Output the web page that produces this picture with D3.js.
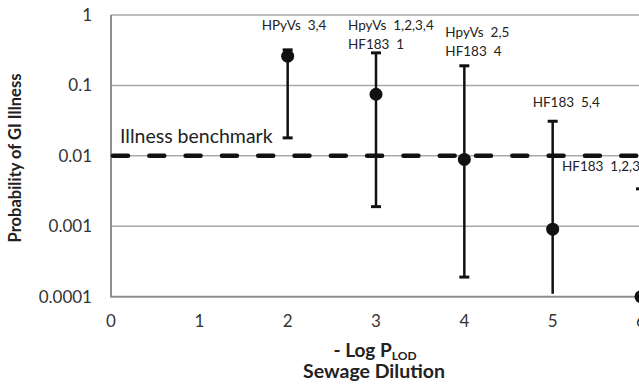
<!DOCTYPE html>
<html>
<head>
<meta charset="utf-8">
<script src="https://cdn.jsdelivr.net/npm/d3@7"></script>
<style>
	body { margin: 0; background: #fff; }
	svg { display: block; font-family: Lato, "Open Sans", sans-serif; }
	text { white-space: pre; }
</style>
</head>
<body>
<div id="chart"></div>
<script>
// data
var dilution = [2, 3, 4, 5, 6];
var probMean = [0.26, 0.075, 0.0089, 0.00091, 0.0001];
var probUpper = [0.32, 0.29, 0.19, 0.031, 0.0034];
var probLower = [0.018, 0.0019, 0.00019, 0.00011, 0.0001];
var lowerCapShown = [true, true, true, false, false];
var pointLabels = [
	["HPyVs  3,4"],
	["HpyVs  1,2,3,4", "HF183  1"],
	["HpyVs  2,5", "HF183  4"],
	["HF183  5,4"],
	["HF183  1,2,3"]
];
var xTicks = [0, 1, 2, 3, 4, 5, 6];
var yTicks = [1, 0.1, 0.01, 0.001, 0.0001];
var yTickLabels = ["1", "0.1", "0.01", "0.001", "0.0001"];
var benchmark = 0.01;

var width = 639, height = 384;
var plotLeft = 111, plotTop = 15, plotBottom = 296.7;

var svg = d3.select("#chart").append("svg")
	.attr("width", width).attr("height", height);

var x = d3.scaleLinear().domain([0, 6]).range([plotLeft, 641]);
var y = d3.scaleLog().domain([0.0001, 1]).range([plotBottom, plotTop]);

// gridlines
svg.append("g").selectAll("line")
	.data(yTicks.slice(0, 4))
	.enter().append("line")
	.attr("x1", plotLeft).attr("x2", width)
	.attr("y1", function (d) { return y(d); })
	.attr("y2", function (d) { return y(d); })
	.attr("stroke", "#a9a9a9").attr("stroke-width", 1.5);

// axes lines
svg.append("line")
	.attr("x1", plotLeft).attr("x2", plotLeft).attr("y1", plotTop).attr("y2", plotBottom)
	.attr("stroke", "#8e8e8e").attr("stroke-width", 2);
svg.append("line")
	.attr("x1", plotLeft - 1).attr("x2", width).attr("y1", plotBottom).attr("y2", plotBottom)
	.attr("stroke", "#8e8e8e").attr("stroke-width", 2);

// tick labels
svg.append("g").selectAll("text")
	.data(yTicks)
	.enter().append("text")
	.attr("x", 92)
	.attr("y", function (d) { return y(d) + 6; })
	.attr("text-anchor", "end")
	.attr("font-size", 17).attr("fill", "#333")
	.text(function (d, i) { return yTickLabels[i]; });

svg.append("g").selectAll("text")
	.data(xTicks)
	.enter().append("text")
	.attr("x", function (d) { return x(d); })
	.attr("y", 327)
	.attr("text-anchor", "middle")
	.attr("font-size", 17).attr("fill", "#333")
	.text(function (d) { return d; });

// benchmark line
svg.append("line")
	.attr("x1", plotLeft + 2).attr("x2", width)
	.attr("y1", y(benchmark)).attr("y2", y(benchmark))
	.attr("stroke", "#111").attr("stroke-width", 4.5)
	.attr("stroke-linecap", "round")
	.attr("stroke-dasharray", "15,21.3")
	.attr("stroke-dashoffset", 0);

svg.append("text")
	.attr("x", 120).attr("y", 143)
	.attr("font-size", 19.5).attr("fill", "#222")
	.text("Illness benchmark");

// error bars
var bars = svg.append("g").selectAll("g")
	.data(dilution)
	.enter().append("g");

bars.append("line")
	.attr("x1", function (d) { return x(d); })
	.attr("x2", function (d) { return x(d); })
	.attr("y1", function (d, i) { return y(probUpper[i]); })
	.attr("y2", function (d, i) { return y(probLower[i]); })
	.attr("stroke", "#111").attr("stroke-width", 2.5);

bars.append("line")
	.attr("x1", function (d) { return x(d) - 5; })
	.attr("x2", function (d) { return x(d) + 5; })
	.attr("y1", function (d, i) { return y(probUpper[i]); })
	.attr("y2", function (d, i) { return y(probUpper[i]); })
	.attr("stroke", "#111").attr("stroke-width", 3);

bars.filter(function (d, i) { return lowerCapShown[i]; })
	.append("line")
	.attr("x1", function (d) { return x(d) - 5; })
	.attr("x2", function (d) { return x(d) + 5; })
	.attr("y1", function (d) { return y(probLower[dilution.indexOf(d)]); })
	.attr("y2", function (d) { return y(probLower[dilution.indexOf(d)]); })
	.attr("stroke", "#111").attr("stroke-width", 3);

bars.append("circle")
	.attr("cx", function (d) { return x(d); })
	.attr("cy", function (d, i) { return y(probMean[i]); })
	.attr("r", 6.5)
	.attr("fill", "#111");

// labels above the bars
var labelDx = [-26, -28, -19, -20, -79];
var labelY = [30, 30, 37, 107, 171];
bars.each(function (d, i) {
	var g = d3.select(this);
	pointLabels[i].forEach(function (line, k) {
		g.append("text")
			.attr("x", x(d) + labelDx[i])
			.attr("y", labelY[i] + k * 18.5)
			.attr("font-size", 13.5).attr("fill", "#222")
			.text(line);
	});
});

// axis titles
svg.append("text")
	.attr("transform", "translate(21,158) rotate(-90)")
	.attr("text-anchor", "middle")
	.attr("font-size", 16.5).attr("font-weight", "bold").attr("fill", "#222")
	.text("Probability of GI Illness");

var xt = svg.append("text")
	.attr("x", 375).attr("y", 357)
	.attr("text-anchor", "middle")
	.attr("font-size", 19).attr("font-weight", "bold").attr("fill", "#222");
xt.append("tspan").text("- Log P");
xt.append("tspan").attr("font-size", 12).attr("dy", 3).text("LOD");

svg.append("text")
	.attr("x", 374).attr("y", 378)
	.attr("text-anchor", "middle")
	.attr("font-size", 19.5).attr("font-weight", "bold").attr("fill", "#222")
	.text("Sewage Dilution");
</script>
</body>
</html>
